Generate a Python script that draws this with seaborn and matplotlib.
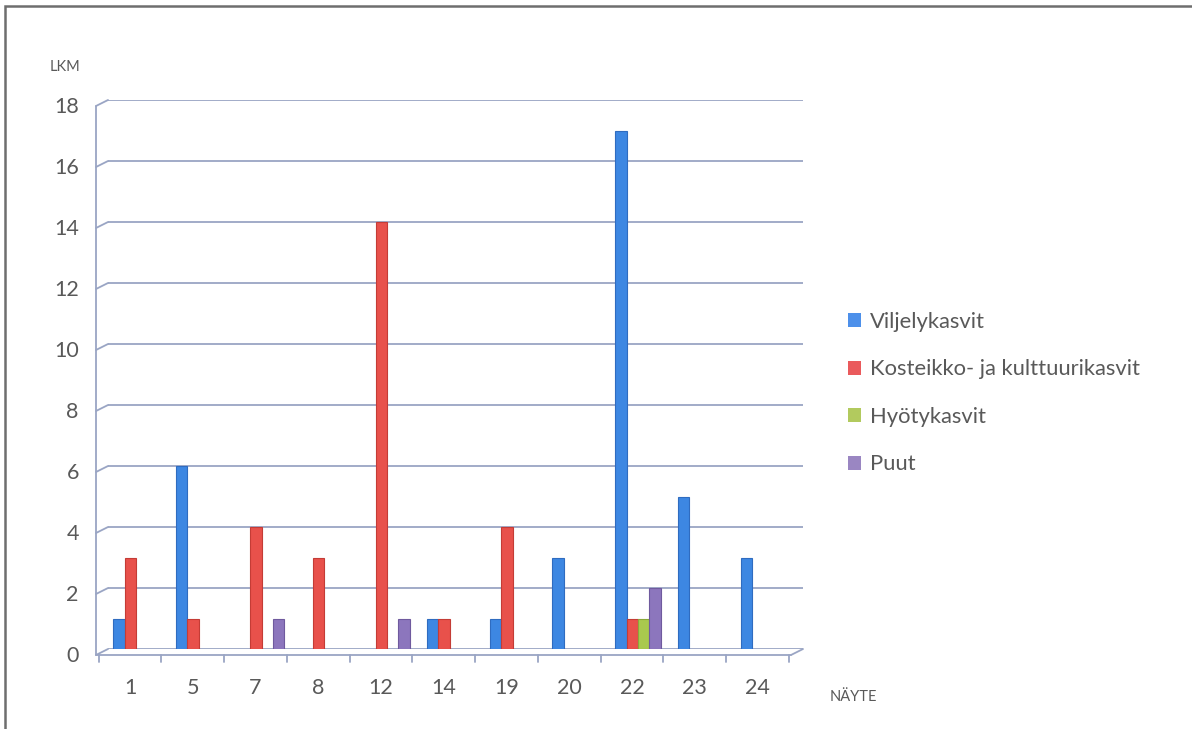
import numpy as np
import pandas as pd
import seaborn as sns
import matplotlib.pyplot as plt
from matplotlib.patches import Rectangle, Patch
from matplotlib.transforms import ScaledTranslation

# Sample numbers (NÄYTE) and plant-group counts (LKM)
samples = ["1", "5", "7", "8", "12", "14", "19", "20", "22", "23", "24"]
groups = ["Viljelykasvit", "Kosteikko- ja kulttuurikasvit", "Hyötykasvit", "Puut"]
viljelykasvit = [1, 6, 0, 0, 0, 1, 1, 3, 17, 5, 3]
kosteikko = [3, 1, 4, 3, 14, 1, 4, 0, 1, 0, 0]
hyotykasvit = [0, 0, 0, 0, 0, 0, 0, 0, 1, 0, 0]
puut = [0, 0, 1, 0, 1, 0, 0, 0, 2, 0, 0]
y_ticks = [0, 2, 4, 6, 8, 10, 12, 14, 16, 18]

colors = ["#3d87e2", "#e8514b", "#a9c94e", "#8c76bd"]
edge_colors = ["#2f6cc0", "#c43c36", "#8aa83a", "#6f5a9e"]
legend_colors = ["#4d90ea", "#ea5a5c", "#b2ca5e", "#9a86c2"]
grid_col = "#9aa5c4"
text_col = "#595959"

df = pd.DataFrame({
    "Näyte": samples * 4,
    "Ryhmä": np.repeat(groups, len(samples)),
    "LKM": viljelykasvit + kosteikko + hyotykasvit + puut,
})

sns.set_theme(style="white")
plt.rcParams["font.family"] = ["Lato", "DejaVu Sans"]

W, H = 1192, 729
fig = plt.figure(figsize=(W / 100, H / 100), dpi=100)
fig.patch.set_facecolor("white")

# plot area in pixel terms
L, R, T, B = 108, 803, 100, 649
ax = fig.add_axes([L / W, 1 - B / H, (R - L) / W, (B - T) / H])

sns.barplot(data=df, x="Näyte", y="LKM", hue="Ryhmä", order=samples,
            hue_order=groups, palette=colors, width=0.73, saturation=1,
            edgecolor="none", linewidth=0, ax=ax, legend=True)

# darker outline per series, only on bars with a height
for cont, ec in zip(ax.containers, edge_colors):
    for bar in cont:
        if bar.get_height() > 0:
            bar.set_edgecolor(ec)
            bar.set_linewidth(0.8)

step = 62.75
x0 = -(136 - L) / step
x1 = x0 + (R - L) / step
ax.set_xlim(x0, x1)
ax.set_ylim(0, 18)
ax.set_yticks(y_ticks)
ax.set_yticklabels([str(v) for v in y_ticks])
ax.set_xlabel("")
ax.set_ylabel("")
for s in ax.spines.values():
    s.set_visible(False)

ax.yaxis.grid(True, color=grid_col, linewidth=1.3)
ax.set_axisbelow(True)
ax.tick_params(axis="both", length=0, labelsize=15.5, colors=text_col)
ax.tick_params(axis="y", pad=21)
ax.tick_params(axis="x", pad=21)

# depth offsets of the front edge of the 3-D frame (pixels -> data)
dx = 12 / step
dy = 6 / ((B - T) / 18)
fx = x0 - dx
lkw = dict(color=grid_col, linewidth=1.3, clip_on=False, zorder=1)
ax.plot([fx, fx], [-dy, 18 - dy], **lkw)
for v in y_ticks:
    ax.plot([fx, x0], [v - dy, v], **lkw)
ax.plot([fx, x1 - dx], [-dy, -dy], **lkw)
ax.plot([x1 - dx, x1], [-dy, 0], **lkw)
tick_len = 7 / ((B - T) / 18)
for k in range(len(samples) + 1):
    bx = k - 0.405 - dx
    ax.plot([bx, bx], [-dy, -dy - tick_len], **lkw)

off_y = ScaledTranslation(0, -5 / 100, fig.dpi_scale_trans)
for lab in ax.get_yticklabels():
    lab.set_transform(lab.get_transform() + off_y)
off_x = ScaledTranslation(-6 / 100, 0, fig.dpi_scale_trans)
for lab in ax.get_xticklabels():
    lab.set_transform(lab.get_transform() + off_x)

# axis titles
fig.text(50 / W, 1 - 67 / H, "LKM", fontsize=10.5, color=text_col,
         ha="left", va="center")
fig.text(830 / W, 1 - 697 / H, "NÄYTE", fontsize=10.5, color=text_col,
         ha="left", va="center")

# legend
handles = [Patch(facecolor=c, edgecolor="none") for c in legend_colors]
leg = ax.legend(handles, groups, loc="upper left",
                bbox_to_anchor=(848 / W, 1 - 312 / H),
                bbox_transform=fig.transFigure, frameon=False, fontsize=15.8,
                handlelength=0.6, handleheight=0.6, handletextpad=0.4,
                labelspacing=1.25, borderpad=0, borderaxespad=0)
for t in leg.get_texts():
    t.set_color(text_col)

# chart border
fig.patches.append(Rectangle((5 / W, -0.05), 1.2, 1.05 - 6 / H,
                             transform=fig.transFigure, fill=False,
                             edgecolor="#6e6e6e", linewidth=1.8))

fig.savefig("out.png", dpi=100)
